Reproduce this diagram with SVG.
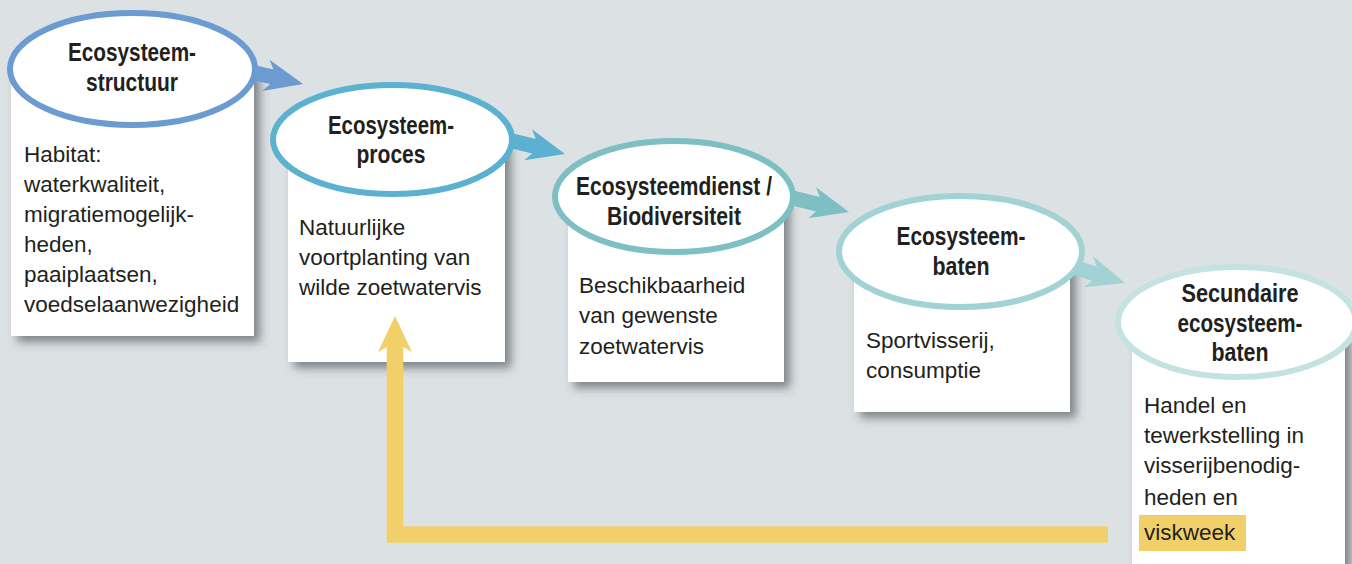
<svg xmlns="http://www.w3.org/2000/svg" width="1352" height="564" viewBox="0 0 1352 564">
<defs>
<filter id="sh" x="-20%" y="-20%" width="140%" height="140%">
<feDropShadow dx="6" dy="6" stdDeviation="5" flood-color="#40454a" flood-opacity="0.6"/>
</filter>
</defs>
<style>
.box{fill:#ffffff;filter:url(#sh)}
.ell{fill:#ffffff;stroke-width:6}
.t{font-family:"Liberation Sans",Arial,sans-serif;font-weight:bold;font-size:25px;fill:#231f20;text-anchor:middle}
.b{font-family:"Liberation Sans",Arial,sans-serif;font-size:22.5px;fill:#231f20}
.yl{fill:none;stroke:#f1d06a;stroke-width:16.5;stroke-linejoin:miter}
</style>
<rect x="0" y="0" width="1352" height="564" fill="#dce1e4"/>

<g id="node-structuur">
<rect class="box" x="11" y="69" width="243" height="267"/>
<ellipse class="ell" cx="132.5" cy="69" rx="122.5" ry="56" stroke="#6b9bd0"/>
<text class="t" x="132" y="61" textLength="128" lengthAdjust="spacingAndGlyphs">Ecosysteem-</text>
<text class="t" x="132" y="91" textLength="92" lengthAdjust="spacingAndGlyphs">structuur</text>
<text class="b" x="24" y="162">Habitat:</text>
<text class="b" x="24" y="192">waterkwaliteit,</text>
<text class="b" x="24" y="222">migratiemogelijk-</text>
<text class="b" x="24" y="252">heden,</text>
<text class="b" x="24" y="282">paaiplaatsen,</text>
<text class="b" x="24" y="312">voedselaanwezigheid</text>
</g>

<g id="node-proces">
<rect class="box" x="288" y="140" width="217" height="222"/>
<ellipse class="ell" cx="392.5" cy="139.5" rx="119.5" ry="54.5" stroke="#5cb1d1"/>
<text class="t" x="391" y="134" textLength="126" lengthAdjust="spacingAndGlyphs">Ecosysteem-</text>
<text class="t" x="391" y="163" textLength="69" lengthAdjust="spacingAndGlyphs">proces</text>
<text class="b" x="299" y="235">Natuurlijke</text>
<text class="b" x="299" y="265">voortplanting van</text>
<text class="b" x="299" y="295">wilde zoetwatervis</text>
</g>

<g id="node-dienst">
<rect class="box" x="568" y="197" width="216" height="185"/>
<ellipse class="ell" cx="674" cy="196.5" rx="119" ry="55.5" stroke="#7dbfc3"/>
<text class="t" x="674" y="195" textLength="196" lengthAdjust="spacingAndGlyphs">Ecosysteemdienst /</text>
<text class="t" x="674" y="225" textLength="134" lengthAdjust="spacingAndGlyphs">Biodiversiteit</text>
<text class="b" x="579" y="293">Beschikbaarheid</text>
<text class="b" x="579" y="323">van gewenste</text>
<text class="b" x="579" y="354">zoetwatervis</text>
</g>

<g id="node-baten">
<rect class="box" x="854" y="252" width="216" height="160"/>
<ellipse class="ell" cx="960.5" cy="251.5" rx="121.5" ry="55.5" stroke="#a2d2d4"/>
<text class="t" x="961" y="245" textLength="129" lengthAdjust="spacingAndGlyphs">Ecosysteem-</text>
<text class="t" x="961" y="275" textLength="57" lengthAdjust="spacingAndGlyphs">baten</text>
<text class="b" x="866" y="348">Sportvisserij,</text>
<text class="b" x="866" y="378">consumptie</text>
</g>

<g id="node-secundair">
<rect class="box" x="1132" y="322" width="213" height="270"/>
<ellipse class="ell" cx="1237" cy="322" rx="119" ry="55" stroke="#c4e2e2"/>
<text class="t" x="1240" y="302" textLength="117" lengthAdjust="spacingAndGlyphs">Secundaire</text>
<text class="t" x="1240" y="332" textLength="125" lengthAdjust="spacingAndGlyphs">ecosysteem-</text>
<text class="t" x="1240" y="361" textLength="57" lengthAdjust="spacingAndGlyphs">baten</text>
<rect x="1139" y="515" width="107" height="36" fill="#f1d06a"/>
<text class="b" x="1144" y="413">Handel en</text>
<text class="b" x="1144" y="443">tewerkstelling in</text>
<text class="b" x="1144" y="473">visserijbenodig-</text>
<text class="b" x="1144" y="505">heden en</text>
<text class="b" x="1144" y="540">viskweek</text>
</g>

<g id="connectors">
<path fill="#6b9bd0" transform="translate(303,84) rotate(13)" d="M0,0 L-38,-16 L-32,-7.5 L-50,-7.5 L-50,7.5 L-32,7.5 L-38,16 Z"/>
<path fill="#5cb1d1" transform="translate(565,154) rotate(14)" d="M0,0 L-38,-16 L-32,-7.5 L-55,-7.5 L-55,7.5 L-32,7.5 L-38,16 Z"/>
<path fill="#7dbfc3" transform="translate(849,212) rotate(14)" d="M0,0 L-38,-16 L-32,-7.5 L-58,-7.5 L-58,7.5 L-32,7.5 L-38,16 Z"/>
<path fill="#a2d2d4" transform="translate(1125,283) rotate(17)" d="M0,0 L-38,-16 L-32,-7.5 L-51,-7.5 L-51,7.5 L-32,7.5 L-38,16 Z"/>
<path class="yl" d="M1108,534.5 H395 V344"/>
<polygon fill="#f1d06a" points="395,316 412,352 403,347 387,347 378,352"/>
</g>
</svg>
